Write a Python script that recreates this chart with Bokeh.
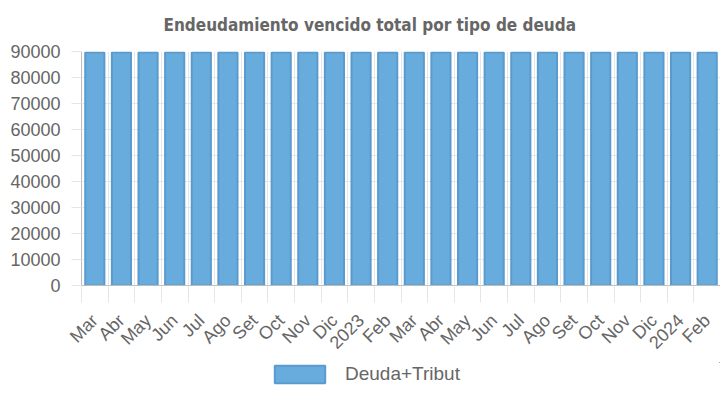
import math
from bokeh.plotting import figure
from bokeh.layouts import column
from bokeh.models import (Range1d, FixedTicker, Legend, LegendItem, ColumnDataSource,
                          BoxAnnotation)
from bokeh.embed import file_html
from bokeh.resources import INLINE

# ---- data ----
months = ["Mar", "Abr", "May", "Jun", "Jul", "Ago", "Set", "Oct", "Nov", "Dic",
          "2023", "Feb", "Mar", "Abr", "May", "Jun", "Jul", "Ago", "Set", "Oct",
          "Nov", "Dic", "2024", "Feb"]
deuda_tribut = [89600, 89600, 89600, 89600, 89600, 89600, 89600, 89600, 89600, 89600,
                89600, 89600, 89600, 89600, 89600, 89600, 89600, 89600, 89600, 89600,
                89600, 89600, 89600, 89600]
y_ticks = [0, 10000, 20000, 30000, 40000, 50000, 60000, 70000, 80000, 90000]
series_name = "Deuda+Tribut"
title_text = "Endeudamiento vencido total por tipo de deuda"

n = len(months)
centers = [i + 0.5 for i in range(n)]
bounds = [float(i) for i in range(n + 1)]

FILL = "#68acdd"
EDGE = "#5a9bcf"
TXT = "#666666"
GRID = "#e6e6e6"
AXIS = "#bdbdbd"
FONT = "Liberation Sans"

W = 720
H_MAIN = 362
H_LEG = 24

p = figure(width=W, height=H_MAIN, x_range=Range1d(0, n), y_range=Range1d(0, 90000),
           output_backend="svg", toolbar_location=None,
           min_border_left=81, min_border_right=0, min_border_top=51,
           min_border_bottom=0)
p.outline_line_color = None
p.background_fill_color = "white"
p.border_fill_color = "white"

p.title.text = title_text
p.title.align = "left"
p.title.offset = 82
p.title.vertical_align = "top"
p.title.text_font = "DejaVu Sans Condensed"
p.title.text_font_style = "bold"
p.title.text_font_size = "17px"
p.title.text_color = TXT
p.title.standoff = 29

src = ColumnDataSource(dict(x=centers, top=deuda_tribut))
r = p.vbar(x="x", top="top", width=0.72, bottom=0, source=src,
           fill_color=FILL, line_color=EDGE, line_width=2)

# y axis
p.yaxis.ticker = FixedTicker(ticks=y_ticks)
p.yaxis.major_label_text_font = FONT
p.yaxis.major_label_text_font_size = "18px"
p.yaxis.major_label_text_color = TXT
p.yaxis.axis_line_color = AXIS
p.yaxis.major_tick_line_color = GRID
p.yaxis.major_tick_out = 10
p.yaxis.major_tick_in = 0
p.yaxis.minor_tick_line_color = None
p.yaxis.major_label_standoff = 11
p.ygrid.ticker = FixedTicker(ticks=y_ticks)
p.ygrid.grid_line_color = GRID

# x axis
p.xaxis.ticker = FixedTicker(ticks=centers, minor_ticks=bounds)
p.xaxis.major_label_overrides = {c: m for c, m in zip(centers, months)}
p.xaxis.major_label_orientation = math.pi / 4
p.xaxis.major_label_text_font = FONT
p.xaxis.major_label_text_font_size = "18px"
p.xaxis.major_label_text_color = TXT
p.xaxis.axis_line_color = AXIS
p.xaxis.major_tick_line_color = None
p.xaxis.major_tick_out = 0
p.xaxis.minor_tick_line_color = GRID
p.xaxis.minor_tick_out = 17
p.xaxis.minor_tick_in = 0
p.xaxis.major_label_standoff = 15
p.xgrid.ticker = FixedTicker(ticks=bounds)
p.xgrid.grid_line_color = GRID

# legend strip: a small figure below; its proxy bars share the data but lie far
# outside its view in both directions, so only the legend swatch shows
pl = figure(width=W, height=H_LEG, x_range=Range1d(-3e6, -2e6), y_range=Range1d(-3e6, -2e6),
            output_backend="svg", toolbar_location=None,
            x_axis_type=None, y_axis_type=None,
            min_border_left=81, min_border_right=0, min_border_top=0, min_border_bottom=0)
pl.outline_line_color = None
pl.xgrid.visible = False
pl.ygrid.visible = False
proxy = pl.vbar(x="x", top="top", width=0.72, bottom=0, source=src,
                fill_color=FILL, line_color=EDGE, line_width=2)
pl.add_layout(BoxAnnotation(fill_color="white", fill_alpha=1.0, line_color=None))
legend = Legend(items=[LegendItem(label=series_name, renderers=[proxy])],
                location=(187, 1), padding=0, margin=0,
                border_line_color=None, background_fill_alpha=0,
                glyph_width=63, glyph_height=22, label_standoff=14,
                label_text_font=FONT, label_text_font_size="19px",
                label_text_color=TXT)
pl.add_layout(legend, "center")

layout = column(p, pl, spacing=0)
open("out.html", "w").write(file_html(layout, INLINE))
